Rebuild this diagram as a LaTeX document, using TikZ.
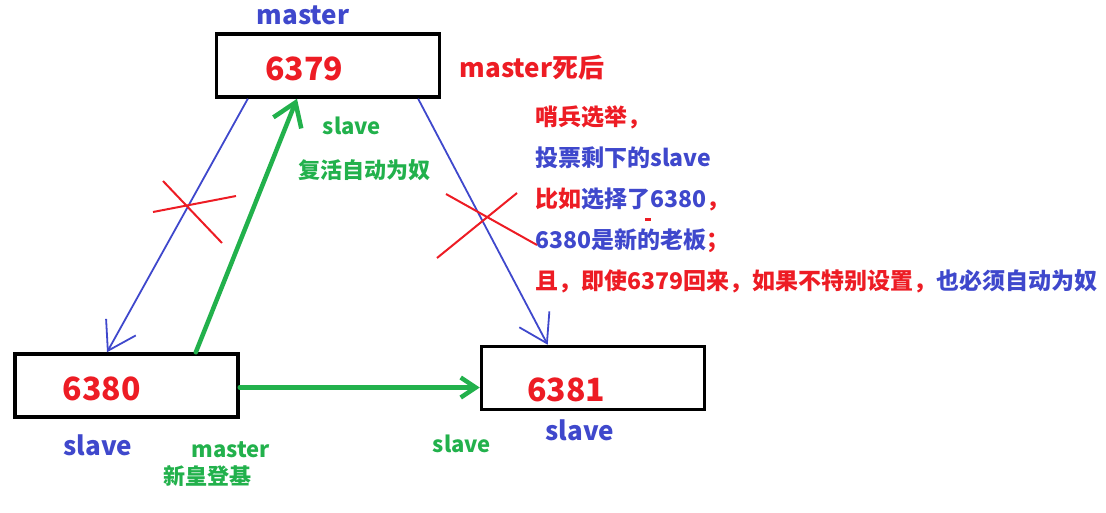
\documentclass[tikz,border=0pt]{standalone}
\usepackage{fontspec}
\setmainfont{Noto Sans CJK SC}
\usepackage{tikz}
\usetikzlibrary{arrows.meta,positioning,calc}
\definecolor{pred}{RGB}{237,28,36}
\definecolor{pblue}{RGB}{63,72,204}
\definecolor{pgreen}{RGB}{34,177,76}

\begin{document}
\begin{tikzpicture}[x=1pt,y=-1pt,semithick,font=\bfseries]
\tikzstyle{server}=[draw=black,line width=3.5pt,minimum width=223pt,minimum height=63pt,inner sep=0pt]
\tikzstyle{port}=[text=pred,font=\fontsize{32}{32}\selectfont\bfseries,inner sep=0pt]
\tikzstyle{role}=[text=pblue,font=\fontsize{26}{26}\selectfont\bfseries,inner sep=0pt]
\tikzstyle{hint}=[text=pgreen,font=\fontsize{22}{22}\selectfont\bfseries,inner sep=0pt]
\tikzstyle{sync}=[draw=pblue,line width=1.8pt,-{Straight Barb[length=27pt,width=34pt,line width=1.8pt]}]
\tikzstyle{promote}=[draw=pgreen,line width=4.5pt,line cap=round,-{Straight Barb[length=22pt,width=30pt,line width=4.5pt]}]
\tikzstyle{cut}=[draw=pred,line width=2pt]
\useasboundingbox (0,0) rectangle (1106,512);
\node[server] (m) at (328,65.5) {};
\node[server] (l) at (126.5,385.5) {};
\node[server] (r) at (593,378) {};
\node[port,right=50pt of m.west,yshift=-3pt] (m6379) {6379};
\node[port,right=49pt of l.west,yshift=-3pt] (l6380) {6380};
\node[port,right=47pt of r.west,yshift=-12pt] (r6381) {6381};
\node[role] (mrole) at (303,15) {master};
\node[role] (lrole) at (98,445) {slave};
\node[role] (rrole) at (580,430) {slave};
\node[text=pred,font=\fontsize{26}{26}\selectfont\bfseries,inner sep=0pt] (dead) at (532,68) {master死后};
\node[hint] (back) at (352,126) {slave};
\node[hint] (backnote) at (364,170) {复活自动为奴};
\node[hint] (newm) at (231,450) {master};
\node[hint] (newnote) at (207,476) {新皇登基};
\node[hint] (rslave) at (462,444) {slave};
\node[anchor=north west,align=left,inner sep=0pt,font=\fontsize{23}{41}\selectfont\bfseries] (vote) at (535,105) {%
\textcolor{pred}{哨兵选举，}\\
\textcolor{pblue}{投票剩下的slave}\\
\textcolor{pred}{比如}\textcolor{pblue}{选择了6380}\textcolor{pred}{，}\\
\textcolor{pblue}{6380是新的老板}\textcolor{pred}{；}\\
\textcolor{pred}{且，即使6379回来，如果不特别设置，}\textcolor{pblue}{也必须自动为奴}};
\fill[pred] (645,218) rectangle (651,221);
\coordinate (lout) at ($(l.east)+(0,2)$);
\draw[sync] ($(m.south west)!0.146!(m.south east)$) -- ($(l.north west)!0.414!(l.north east)$);
\draw[sync] ($(m.south west)!0.898!(m.south east)$) -- ($(r.north west)!0.30!(r.north east)$);
\draw[promote] ($(l.north west)!0.806!(l.north east)$) -- ($(m.south west)!0.363!(m.south east)$);
\draw[promote,-{Straight Barb[length=15pt,width=20pt,line width=4.5pt]}] (lout) -- (lout -| r.west);
\draw[cut] (153,212) -- (236,196) (163,181) -- (222,243);
\draw[cut] (446,194) -- (537,245) (517,193) -- (437,258);
\end{tikzpicture}
\end{document}
